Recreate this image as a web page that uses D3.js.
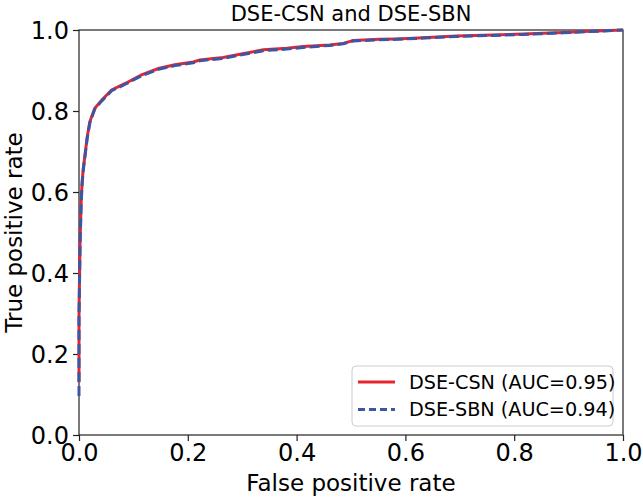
<!DOCTYPE html>
<html lang="en">
<head>
    <meta charset="UTF-8"/>
    <title>DSE-CSN and DSE-SBN</title>
    <script src="https://d3js.org/d3.v7.min.js"></script>
    <style>
        body { margin: 0; background: white; }
        text { font-family: "DejaVu Sans", sans-serif; fill: black; }
    </style>
</head>
<body>
<div id="chart"></div>
<script>
    // ROC curve points (false positive rate / true positive rate)
    const fprCSN = [0, 0.0, 0.002, 0.004, 0.006, 0.008, 0.011, 0.015, 0.020, 0.029, 0.042, 0.060, 0.085, 0.115, 0.146, 0.176,
        0.210, 0.222, 0.265, 0.296, 0.339, 0.382, 0.412, 0.461, 0.486, 0.504, 0.553, 0.584, 0.633, 0.694, 0.817, 0.890, 0.939, 1.0];
    const tprCSN = [0.13, 0.30, 0.48, 0.58, 0.63, 0.66, 0.691, 0.735, 0.774, 0.807, 0.827, 0.852, 0.868, 0.889, 0.905, 0.914,
        0.921, 0.926, 0.932, 0.940, 0.951, 0.955, 0.959, 0.963, 0.967, 0.974, 0.977, 0.978, 0.981, 0.985, 0.990, 0.994, 0.997, 1.0];
    const fprSBN = fprCSN.slice();
    const tprSBN = [0.096, 0.29, 0.47, 0.575, 0.625, 0.655, 0.688, 0.732, 0.771, 0.805, 0.825, 0.850, 0.866, 0.887, 0.903, 0.912,
        0.919, 0.924, 0.930, 0.938, 0.949, 0.953, 0.957, 0.962, 0.966, 0.973, 0.976, 0.977, 0.980, 0.984, 0.989, 0.993, 0.996, 1.0];

    const seriesNames = ["DSE-CSN (AUC=0.95)", "DSE-SBN (AUC=0.94)"];
    const tickValues = [0.0, 0.2, 0.4, 0.6, 0.8, 1.0];

    const width = 643;
    const height = 497;
    const margin = {top: 30, right: 20, bottom: 62, left: 79};
    const gW = width - margin.left - margin.right;
    const gH = height - margin.top - margin.bottom;

    const svg = d3.select("#chart")
        .append("svg")
        .attr("width", width)
        .attr("height", height);

    const g = svg.append("g").attr("transform", `translate(${margin.left}, ${margin.top})`);

    const xScale = d3.scaleLinear().domain([0, 1]).range([0, gW]);
    const yScale = d3.scaleLinear().domain([0, 1]).range([gH, 0]);

    // Axes
    const xAxis = g.append("g")
        .attr("transform", `translate(0, ${gH})`)
        .call(d3.axisBottom(xScale).tickValues(tickValues).tickFormat(d3.format(".1f")).tickSize(6).tickPadding(3));
    const yAxis = g.append("g")
        .call(d3.axisLeft(yScale).tickValues(tickValues).tickFormat(d3.format(".1f")).tickSize(6).tickPadding(4));
    [xAxis, yAxis].forEach(ax => {
        ax.selectAll("text").style("font-size", "24px").style("font-family", "DejaVu Sans");
        ax.selectAll("line").attr("stroke", "#222").attr("stroke-width", 1.2);
        ax.select(".domain").remove();
    });
    yAxis.selectAll("text").attr("dy", "0.36em");

    // Frame
    g.append("rect")
        .attr("width", gW)
        .attr("height", gH)
        .attr("fill", "none")
        .attr("stroke", "#222")
        .attr("stroke-width", 1.2);

    // Curves
    const csn = fprCSN.map((d, i) => ({x: d, y: tprCSN[i]}));
    const sbn = fprSBN.map((d, i) => ({x: d, y: tprSBN[i]}));

    const line = d3.line()
        .x(d => xScale(d.x))
        .y(d => yScale(d.y))
        .curve(d3.curveLinear);

    g.append("path")
        .attr("d", line(csn))
        .attr("fill", "none")
        .attr("stroke", "#e6262e")
        .attr("stroke-width", 3);

    g.append("path")
        .attr("d", line(sbn))
        .attr("fill", "none")
        .attr("stroke", "#3d55a5")
        .attr("stroke-width", 3)
        .attr("stroke-dasharray", "10,4");

    // Title
    svg.append("text")
        .attr("x", margin.left + gW / 2)
        .attr("y", 21)
        .style("font-size", "21px")
        .style("text-anchor", "middle")
        .text("DSE-CSN and DSE-SBN");

    // Axis labels
    svg.append("text")
        .attr("x", margin.left + gW / 2)
        .attr("y", 491)
        .style("font-size", "23px")
        .style("text-anchor", "middle")
        .text("False positive rate");

    svg.append("text")
        .attr("transform", `translate(22, ${margin.top + gH / 2}) rotate(-90)`)
        .style("font-size", "23px")
        .style("text-anchor", "middle")
        .text("True positive rate");

    // Legend
    const legend = svg.append("g").attr("transform", "translate(352, 366)");
    legend.append("rect")
        .attr("width", 261)
        .attr("height", 60)
        .attr("rx", 4)
        .attr("fill", "white")
        .attr("fill-opacity", 0.8)
        .attr("stroke", "#cccccc")
        .attr("stroke-width", 1);

    const legendStyles = [
        {color: "#e6262e", dash: null},
        {color: "#3d55a5", dash: "7,4"}
    ];
    seriesNames.forEach((name, i) => {
        const row = legend.append("g").attr("transform", `translate(0, ${16 + i * 27.5})`);
        row.append("line")
            .attr("x1", 6).attr("x2", 43)
            .attr("y1", 0).attr("y2", 0)
            .attr("stroke", legendStyles[i].color)
            .attr("stroke-width", 3)
            .attr("stroke-dasharray", legendStyles[i].dash);
        row.append("text")
            .attr("x", 57)
            .attr("y", 0)
            .attr("dy", "0.36em")
            .style("font-size", "19.2px")
            .text(name);
    });
</script>
</body>
</html>
